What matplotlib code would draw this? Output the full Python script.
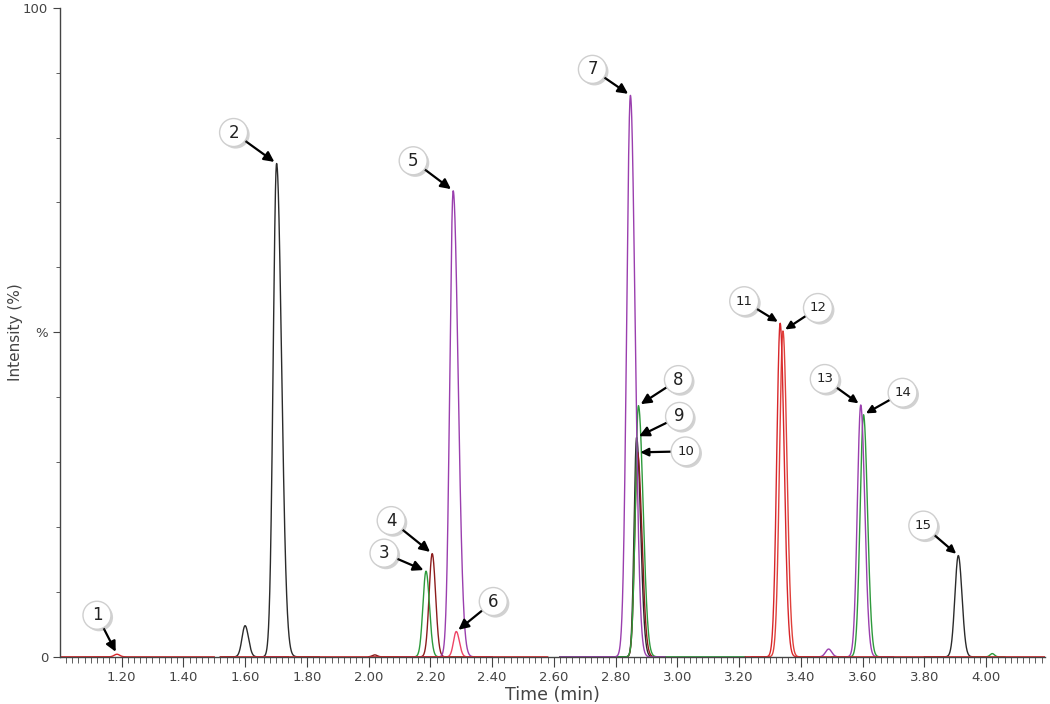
import numpy as np
import matplotlib
matplotlib.use("Agg")
import matplotlib.pyplot as plt
from matplotlib import patheffects as pe

# trace colours
trace_colors = {
    "black": "#2b2b2b",
    "red": "#d8262a",
    "red2": "#e0403a",
    "brown": "#8c1c1c",
    "green": "#2e9a3c",
    "purple": "#9a3fae",
    "pink": "#ee4466",
}

# time windows where each trace is recorded (min)
trace_windows = {
    "black": [(1.52, 1.84), (2.62, 2.96), (3.80, 4.00)],
    "red": [(1.00, 1.50), (1.52, 2.58), (3.22, 4.19)],
    "red2": [(3.24, 3.44)],
    "brown": [(1.64, 1.74), (2.00, 2.40), (2.62, 2.96)],
    "green": [(2.10, 2.40), (2.62, 3.22), (3.50, 3.70), (3.96, 4.06)],
    "purple": [(1.64, 1.72), (2.10, 2.40), (2.62, 2.96), (3.40, 3.70)],
    "pink": [(2.20, 2.38)],
}

# peaks: trace, retention time, height (%), left / right width (min)
peak_trace = ["red", "black", "black", "green", "brown", "purple", "pink",
              "purple", "green", "black", "brown", "red", "red2", "purple",
              "green", "purple", "black", "green", "brown"]
peak_rt = [1.185, 1.600, 1.702, 2.186, 2.206, 2.274, 2.284,
           2.848, 2.874, 2.868, 2.871, 3.333, 3.342, 3.594,
           3.603, 3.490, 3.910, 4.020, 2.020]
peak_height = [0.4, 4.8, 76.0, 13.2, 15.9, 71.8, 3.9,
               86.5, 38.7, 33.8, 31.5, 51.4, 50.2, 38.8,
               37.3, 1.2, 15.6, 0.5, 0.3]
peak_sig_l = [0.009, 0.010, 0.011, 0.010, 0.010, 0.011, 0.009,
              0.012, 0.010, 0.008, 0.009, 0.011, 0.011, 0.011,
              0.011, 0.010, 0.011, 0.007, 0.008]
peak_sig_r = [0.009, 0.011, 0.016, 0.011, 0.011, 0.016, 0.010,
              0.015, 0.015, 0.013, 0.014, 0.013, 0.013, 0.013,
              0.013, 0.010, 0.012, 0.007, 0.008]

# labels: number, which peak it points at, label offset (pixels)
label_num = [str(i) for i in range(1, 16)]
label_peak = [0, 2, 3, 4, 5, 6, 7, 8, 9, 10, 11, 12, 13, 14, 16]
label_dx = [-20, -43, -42, -41, -40, 37, -38, 40, 43, 48, -36, 35, -36, 39, -35]
label_dy = [39, 31, 18, 33, 30, 30, 26, 26, 21, 1, 22, 23, 26, 22, 30]

x_ticks = [1.20, 1.40, 1.60, 1.80, 2.00, 2.20, 2.40, 2.60, 2.80, 3.00,
           3.20, 3.40, 3.60, 3.80, 4.00]


def trace_signal(name, t):
    y = np.zeros_like(t)
    for tr, rt, h, sl, sr in zip(peak_trace, peak_rt, peak_height, peak_sig_l, peak_sig_r):
        if tr != name:
            continue
        sig = np.where(t < rt, sl, sr)
        y += h * np.exp(-0.5 * ((t - rt) / sig) ** 2)
    return y


fig = plt.figure(figsize=(10.5, 7.04), dpi=100)
ax = fig.add_axes([0.057, 0.067, 0.938, 0.922])

draw_order = ["black", "brown", "green", "purple", "pink", "red2", "red"]
for name in draw_order:
    for t0, t1 in trace_windows[name]:
        t = np.linspace(t0, t1, 1200)
        ax.plot(t, trace_signal(name, t), color=trace_colors[name], lw=1.0)

ax.set_xlim(1.0, 4.19)
ax.set_ylim(0, 100)

for spine in ["top", "right"]:
    ax.spines[spine].set_visible(False)
for spine in ["left", "bottom"]:
    ax.spines[spine].set_color("#444444")
    ax.spines[spine].set_linewidth(1.0)

ax.set_xticks(x_ticks)
ax.set_xticklabels(["%.2f" % v for v in x_ticks])
ax.set_xticks(np.arange(1.02, 4.19, 0.02), minor=True)
ax.tick_params(axis="x", which="major", length=7, color="#444444",
               labelsize=9.5, labelcolor="#444444")
ax.tick_params(axis="x", which="minor", length=4, color="#444444")
ax.set_yticks([0, 50, 100])
ax.set_yticklabels(["0", "%", "100"])
ax.set_yticks(np.arange(10, 100, 10), minor=True)
ax.tick_params(axis="y", which="major", length=5, color="#444444",
               labelsize=9.5, labelcolor="#444444")
ax.tick_params(axis="y", which="minor", length=3, color="#444444")

ax.set_xlabel("Time (min)", fontsize=12.5, color="#444444", labelpad=1)
ax.set_ylabel("Intensity (%)", fontsize=11, color="#444444", labelpad=0)

for num, pk, dx, dy in zip(label_num, label_peak, label_dx, label_dy):
    fs = 12 if len(num) == 1 else 9.5
    ann = ax.annotate(
        num, xy=(peak_rt[pk], peak_height[pk]), xytext=(dx, dy),
        textcoords="offset pixels", ha="center", va="center",
        fontsize=fs, color="#222222",
        bbox=dict(boxstyle="circle,pad=0.3" if len(num) == 1 else "circle,pad=0.45",
                  fc="white", ec="#cfcfcf", lw=1.0),
        arrowprops=dict(arrowstyle="-|>,head_length=0.5,head_width=0.25",
                        color="black", lw=1.6, shrinkA=0, shrinkB=2),
    )
    ann.get_bbox_patch().set_path_effects(
        [pe.SimplePatchShadow(offset=(1.5, -1.5), alpha=0.25), pe.Normal()])

fig.savefig("out.png", dpi=100)
